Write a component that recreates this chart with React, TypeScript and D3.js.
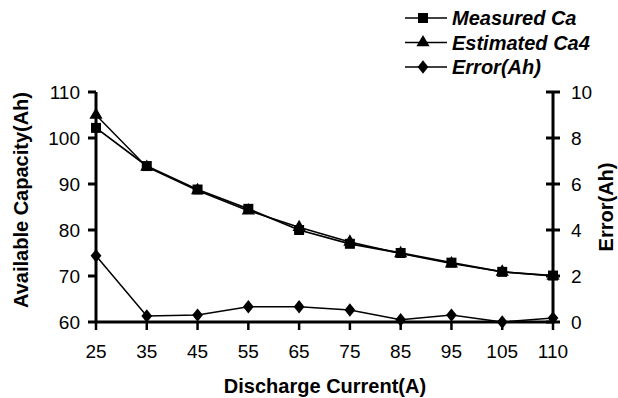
import * as d3 from "d3";
import { useEffect, useRef } from "react";

// discharge current categories
const currents = ["25", "35", "45", "55", "65", "75", "85", "95", "105", "110"];
// capacity series (Ah, left axis)
const measuredCa = [102.2, 93.9, 88.8, 84.6, 80.0, 77.0, 75.0, 72.9, 70.9, 70.1];
const estimatedCa4 = [105.0, 93.7, 88.6, 84.2, 80.6, 77.4, 74.9, 72.7, 70.9, 70.0];
// error series (Ah, right axis)
const errorAh = [2.88, 0.26, 0.3, 0.66, 0.66, 0.52, 0.1, 0.3, 0.0, 0.17];
const leftTicks = [60, 70, 80, 90, 100, 110];
const rightTicks = [0, 2, 4, 6, 8, 10];

const W = 618;
const H = 398;
const FONT = "'Liberation Sans', Arial, sans-serif";

const App = () => {
  const svgRef = useRef<SVGSVGElement | null>(null);

  useEffect(() => {
    const svg = d3.select(svgRef.current);
    svg.selectAll("*").remove();

    const margin = { left: 96, right: 553, top: 92, bottom: 322 };

    const x = d3.scalePoint<string>().domain(currents).range([margin.left, margin.right]);
    const yL = d3.scaleLinear().domain([60, 110]).range([margin.bottom, margin.top]);
    const yR = d3.scaleLinear().domain([0, 10]).range([margin.bottom, margin.top]);

    // Left axis
    const gl = svg.append("g");
    gl.append("line")
      .attr("x1", margin.left).attr("x2", margin.left)
      .attr("y1", margin.top).attr("y2", margin.bottom)
      .attr("stroke", "#000").attr("stroke-width", 3);
    leftTicks.forEach((t) => {
      gl.append("line")
        .attr("x1", margin.left - 8).attr("x2", margin.left)
        .attr("y1", yL(t)).attr("y2", yL(t))
        .attr("stroke", "#000").attr("stroke-width", 3);
      gl.append("text")
        .attr("x", 80).attr("y", yL(t) + 7)
        .attr("text-anchor", "end")
        .style("font-family", FONT).style("font-size", "19px")
        .text(t);
    });

    // Right axis
    const gr = svg.append("g");
    gr.append("line")
      .attr("x1", margin.right).attr("x2", margin.right)
      .attr("y1", margin.top).attr("y2", margin.bottom)
      .attr("stroke", "#000").attr("stroke-width", 3);
    rightTicks.forEach((t) => {
      gr.append("line")
        .attr("x1", margin.right - 7).attr("x2", margin.right + 7)
        .attr("y1", yR(t)).attr("y2", yR(t))
        .attr("stroke", "#000").attr("stroke-width", 3);
      gr.append("text")
        .attr("x", 571).attr("y", yR(t) + 7)
        .attr("text-anchor", "start")
        .style("font-family", FONT).style("font-size", "19px")
        .text(t);
    });

    // Bottom axis
    const gb = svg.append("g");
    gb.append("line")
      .attr("x1", margin.left).attr("x2", margin.right)
      .attr("y1", margin.bottom).attr("y2", margin.bottom)
      .attr("stroke", "#000").attr("stroke-width", 3);
    currents.forEach((c) => {
      gb.append("line")
        .attr("x1", x(c)!).attr("x2", x(c)!)
        .attr("y1", margin.bottom).attr("y2", margin.bottom + 8)
        .attr("stroke", "#000").attr("stroke-width", 2.5);
      gb.append("text")
        .attr("x", x(c)!).attr("y", 358)
        .attr("text-anchor", "middle")
        .style("font-family", FONT).style("font-size", "19px")
        .text(c);
    });

    // Axis titles
    svg.append("text")
      .attr("x", 325).attr("y", 393)
      .attr("text-anchor", "middle")
      .style("font-family", FONT).style("font-size", "20px").style("font-weight", "bold")
      .text("Discharge Current(A)");
    svg.append("text")
      .attr("transform", `translate(28,200) rotate(-90)`)
      .attr("text-anchor", "middle")
      .style("font-family", FONT).style("font-size", "20px").style("font-weight", "bold")
      .text("Available Capacity(Ah)");
    svg.append("text")
      .attr("transform", `translate(613,207) rotate(-90)`)
      .attr("text-anchor", "middle")
      .style("font-family", FONT).style("font-size", "20px").style("font-weight", "bold")
      .text("Error(Ah)");

    const lineL = d3.line<number>().x((_, i) => x(currents[i])!).y((d) => yL(d));
    const lineR = d3.line<number>().x((_, i) => x(currents[i])!).y((d) => yR(d));

    const square = d3.symbol().type(d3.symbolSquare).size(100);
    const triangle = d3.symbol().type(d3.symbolTriangle).size(75);
    const diamond = d3.symbol().type(d3.symbolDiamond).size(64);

    // Error series
    svg.append("path").datum(errorAh).attr("d", lineR)
      .attr("fill", "none").attr("stroke", "#000").attr("stroke-width", 1.5);
    svg.selectAll(".dia").data(errorAh).join("path")
      .attr("class", "dia")
      .attr("d", diamond)
      .attr("transform", (d, i) => `translate(${x(currents[i])},${yR(d)}) scale(1.25,0.9)`)
      .attr("fill", "#000");

    // Estimated series
    svg.append("path").datum(estimatedCa4).attr("d", lineL)
      .attr("fill", "none").attr("stroke", "#000").attr("stroke-width", 1.5);
    svg.selectAll(".tri").data(estimatedCa4).join("path")
      .attr("class", "tri")
      .attr("d", triangle)
      .attr("transform", (d, i) => `translate(${x(currents[i])},${yL(d)})`)
      .attr("fill", "#000");

    // Measured series
    svg.append("path").datum(measuredCa).attr("d", lineL)
      .attr("fill", "none").attr("stroke", "#000").attr("stroke-width", 1.8);
    svg.selectAll(".sq").data(measuredCa).join("path")
      .attr("class", "sq")
      .attr("d", square)
      .attr("transform", (d, i) => `translate(${x(currents[i])},${yL(d)})`)
      .attr("fill", "#000");

    // Legend
    const legend = [
      { label: "Measured Ca", sym: square, sx: 1, sy: 1 },
      { label: "Estimated Ca4", sym: triangle, sx: 1, sy: 1 },
      { label: "Error(Ah)", sym: diamond, sx: 1.25, sy: 0.9 },
    ];
    legend.forEach((l, i) => {
      const ly = 18 + i * 24.5;
      const g = svg.append("g");
      g.append("line")
        .attr("x1", 405).attr("x2", 447).attr("y1", ly).attr("y2", ly)
        .attr("stroke", "#000").attr("stroke-width", 1.5);
      g.append("path").attr("d", l.sym as any)
        .attr("transform", `translate(423,${ly}) scale(${l.sx},${l.sy})`)
        .attr("fill", "#000");
      g.append("text")
        .attr("x", 452).attr("y", ly + 7)
        .style("font-family", FONT).style("font-size", "20px")
        .style("font-weight", "bold").style("font-style", "italic")
        .text(l.label);
    });
  }, []);

  return (
    <svg
      ref={svgRef}
      width={W}
      height={H}
      style={{ position: "absolute", left: 0, top: 0, background: "#fff" }}
    ></svg>
  );
};

export default App;
